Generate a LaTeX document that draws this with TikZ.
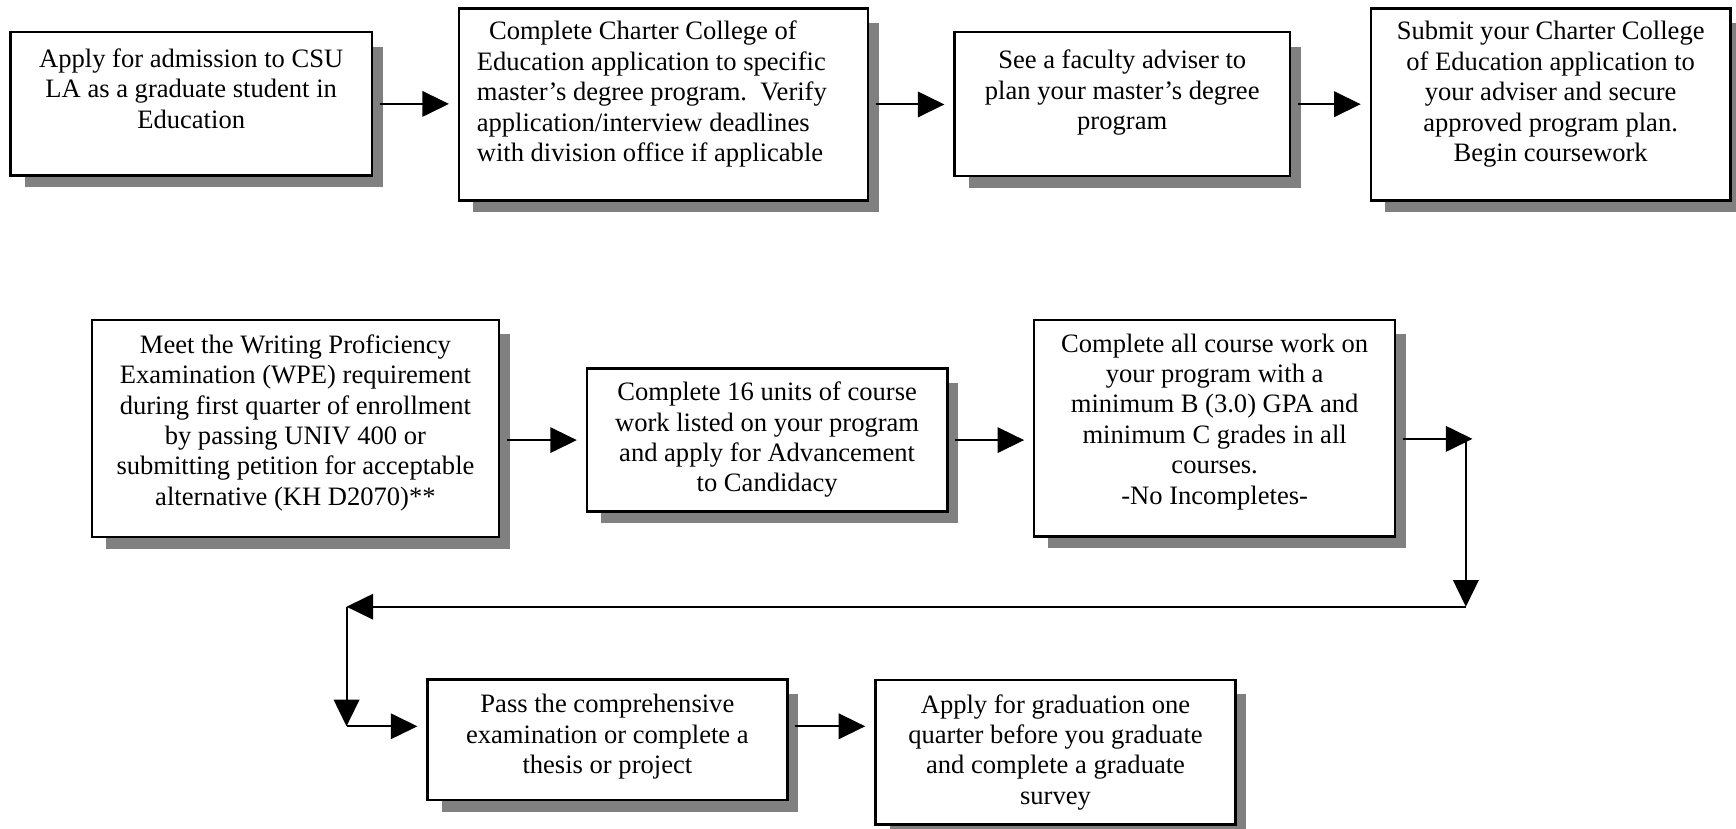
\documentclass[tikz,border=0pt]{standalone}
\usepackage{fontspec}
\setmainfont{Liberation Serif}
\usetikzlibrary{arrows.meta}
\pgfdeclarelayer{background}
\pgfsetlayers{background,main}
\definecolor{shadowgray}{RGB}{128,128,128}
\tikzset{
  box/.style={draw=black, line width=2.2pt, fill=white, inner sep=0pt, anchor=north west},
  txt/.style={align=center, anchor=base, inner sep=0pt, font=\fontsize{24pt}{27.5pt}\selectfont},
  txtl/.style={align=left, anchor=base west, inner sep=0pt, font=\fontsize{24pt}{27.5pt}\selectfont},
  arr/.style={line width=1.8pt, -{Triangle[length=24pt,width=23pt]}, shorten >=8pt},
}
\newcommand\boxshadow[1]{\fill[shadowgray] ([shift={(14,14)}]#1.north west) rectangle ([shift={(8.5,9.5)}]#1.south east);}
\begin{document}
\begin{tikzpicture}[x=1pt,y=-1pt]
\useasboundingbox (0,0) rectangle (1568,748);
% boxes
\node[box, minimum width=326.4pt, minimum height=129.5pt] (b1) at (8.4,28) {};
\node[box, minimum width=369.5pt, minimum height=173.5pt] (b2) at (413.5,6.5) {};
\node[box, minimum width=303pt, minimum height=130pt] (b3) at (861,28) {};
\node[box, minimum width=325pt, minimum height=173.5pt] (b4) at (1237,6.5) {};
\node[box, minimum width=367.5pt, minimum height=196pt] (b5) at (82,288) {};
\node[box, minimum width=325.6pt, minimum height=129.2pt] (b6) at (529,331.8) {};
\node[box, minimum width=326pt, minimum height=195.5pt] (b7) at (933,288) {};
\node[box, minimum width=325pt, minimum height=109pt] (b8) at (385,612.6) {};
\node[box, minimum width=325.5pt, minimum height=130.5pt] (b9) at (789.5,613) {};
\begin{pgfonlayer}{background}
  \fill[white] (0,0) rectangle (1568,748);
  \boxshadow{b1}\boxshadow{b2}\boxshadow{b3}\boxshadow{b4}\boxshadow{b5}
  \boxshadow{b6}\boxshadow{b7}\boxshadow{b8}\boxshadow{b9}
\end{pgfonlayer}
% texts (anchor = baseline of the last line)
\node[txt] (t1) at ([yshift=-88pt]b1.north) {Apply for admission to CSU\\LA as a graduate student in\\Education};
\node[txtl] (t2) at ([xshift=17pt,yshift=-139.5pt]b2.north west) {\hspace{11pt}Complete Charter College of\\Education application to specific\\master’s degree program.\ \ Verify\\application/interview deadlines\\with division office if applicable};
\node[txt] (t3) at ([yshift=-89pt]b3.north) {See a faculty adviser to\\plan your master’s degree\\program};
\node[txt] (t4) at ([yshift=-139.5pt]b4.north) {Submit your Charter College\\of Education application to\\your adviser and secure\\approved program plan.\\Begin coursework};
\node[txt] (t5) at ([yshift=-168.5pt]b5.north) {Meet the Writing Proficiency\\Examination (WPE) requirement\\during first quarter of enrollment\\by passing UNIV 400 or\\submitting petition for acceptable\\alternative (KH D2070)**};
\node[txt] (t6) at ([yshift=-112.5pt]b6.north) {Complete 16 units of course\\work listed on your program\\and apply for Advancement\\to Candidacy};
\node[txt] (t7) at ([yshift=-167.5pt]b7.north) {Complete all course work on\\your program with a\\minimum B (3.0) GPA and\\minimum C grades in all\\courses.\\-No Incompletes-};
\node[txt] (t8) at ([yshift=-86pt]b8.north) {Pass the comprehensive\\examination or complete a\\thesis or project};
\node[txt] (t9) at ([yshift=-113.5pt]b9.north) {Apply for graduation one\\quarter before you graduate\\and complete a graduate\\survey};
% connectors
\coordinate (c1) at (1330,396.4);
\coordinate (c2) at (1324,396.4);
\coordinate (c3) at (1324,548);
\coordinate (c4) at (313,548);
\coordinate (c5) at (313,656);
\draw[arr, shorten <=6pt] (b1.east) -- (b1.east -| b2.west);
\draw[arr, shorten <=6pt] (b2.east) -- (b2.east -| b3.west);
\draw[arr, shorten <=6pt] (b3.east) -- (b3.east -| b4.west);
\draw[arr, shorten <=6pt] (b5.east |- b6.west) -- (b6.west);
\draw[arr, shorten <=6pt] (b6.east) -- (b6.east -| b7.west);
\draw[arr, shorten >=0pt, shorten <=6pt] (b7.east |- c1) -- (c1);
\draw[arr, shorten >=0pt] (c2) -- (c3);
\draw[arr, shorten >=0pt] (c3) -- (c4);
\draw[arr, shorten >=0pt] (c4) -- (c5);
\draw[arr] (c5) -- (c5 -| b8.west);
\draw[arr, shorten <=6pt] (b8.east |- c5) -- (c5 -| b9.west);
\end{tikzpicture}
\end{document}
